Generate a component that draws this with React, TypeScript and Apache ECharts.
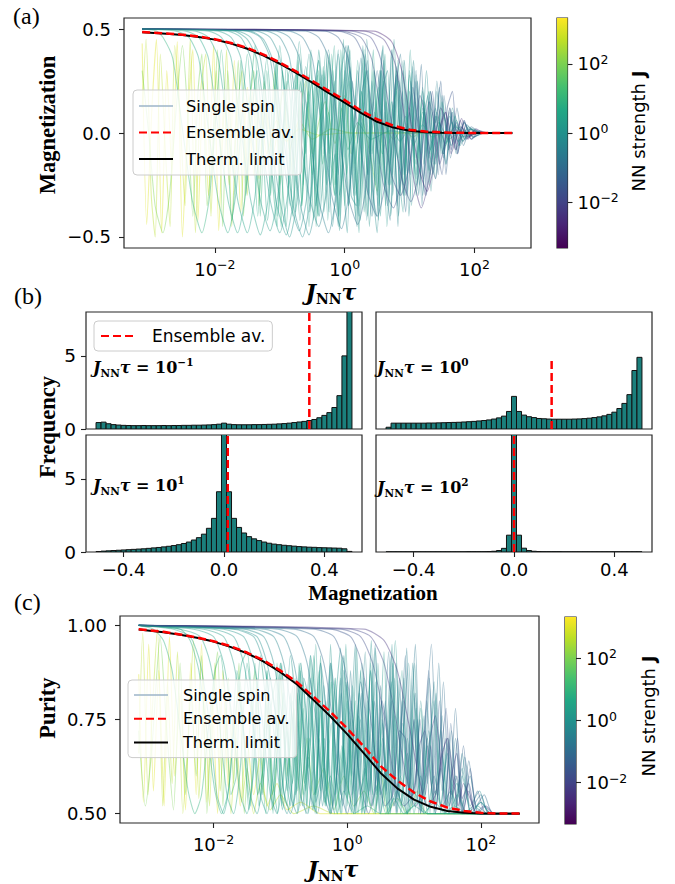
import React, { useEffect, useRef } from "react";
import * as echarts from "echarts";

// ---------------- colour scale ----------------
const VIRIDIS = ["#440154", "#482475", "#414487", "#355f8d", "#2a788e", "#21918c", "#22a884", "#44bf70", "#7ad151", "#bddf26", "#fde725"];
const CB_MIN = -3.33;
const CB_MAX = 3.33;
const cbTicks = [-2, 0, 2];

// ---------------- panel (a): magnetization ----------------
const logTicks = [-2, 0, 2];
const magTicks = [-0.5, 0, 0.5];
const magSpinLogJ = [3.0, 2.6, 2.0, 0.9, 0.7, 0.5, 0.4, 0.3, 0.2, 0.1, 0.0, -0.15, -0.3, -0.5, -0.7, -1.0, -1.3, -1.6, -2.0, -2.3, -1.8, -2.7, 0.55, -0.1, 0.15];
const magSpinPts = [
  [-3.12,0.43,-3.05,-0.44,-2.97,0.12,-2.9,0.45,-2.82,-0.48,-2.74,0.3,-2.66,-0.2,-2.58,0.44,-2.5,-0.5,-2.42,0.05,-2.34,0.4,-2.26,-0.42,-2.18,0.25,-2.1,-0.3,-2.02,0.42,-1.94,-0.47,-1.86,0.18,-1.78,-0.25,-1.7,0.35,-1.6,-0.38,-1.5,0.22,-1.4,-0.2,-1.3,0.15,-1.2,-0.1,-1.05,0.06,-0.9,-0.04,-0.7,0.02,-0.4,-0.01,0,0,2.58,0],
  [-3.12,0.12,-3.06,0.45,-2.98,-0.3,-2.92,-0.5,-2.84,0.38,-2.76,-0.1,-2.69,-0.45,-2.62,0.42,-2.54,0.1,-2.46,-0.35,-2.38,0.45,-2.3,-0.48,-2.22,0.2,-2.14,0.38,-2.06,-0.4,-1.98,0.3,-1.9,-0.15,-1.82,0.4,-1.74,-0.45,-1.66,0.1,-1.58,0.3,-1.5,-0.3,-1.42,0.2,-1.32,-0.22,-1.22,0.12,-1.1,-0.1,-0.95,0.2,-0.85,-0.08,-0.7,0.06,-0.5,-0.03,-0.2,0.02,0.1,0,2.58,0],
  [-3.12,0.3,-3.02,0.0,-2.92,-0.35,-2.8,-0.48,-2.7,-0.3,-2.6,0.1,-2.5,0.42,-2.42,0.1,-2.34,-0.4,-2.26,0.2,-2.2,0.38,-2.12,-0.35,-2.04,-0.1,-1.96,0.4,-1.88,-0.45,-1.8,0.3,-1.72,-0.2,-1.64,0.35,-1.56,-0.4,-1.48,0.1,-1.4,0.3,-1.32,-0.35,-1.24,0.25,-1.16,-0.1,-1.08,0.3,-1.0,-0.25,-0.9,0.15,-0.8,-0.2,-0.7,0.1,-0.6,0.25,-0.5,-0.1,-0.4,0.05,-0.3,0.15,-0.15,-0.05,0,0.18,0.1,-0.1,0.25,0.08,0.4,-0.12,0.5,-0.28,0.6,0.05,0.75,-0.03,0.9,0.02,1.05,-0.02,1.2,0.01,1.4,0,2.58,0],
  [-3.12,0.5,-2.9,0.49,-2.8,0.46,-2.65,0.36,-2.5,0.02,-2.35,-0.32,-2.2,-0.48,-2.08,-0.3,-1.98,0.1,-1.9,0.4,-1.82,0.05,-1.74,-0.42,-1.66,-0.1,-1.6,0.35,-1.52,-0.3,-1.45,0.2,-1.38,0.42,-1.3,-0.4,-1.22,0.1,-1.14,-0.3,-1.06,0.35,-0.98,-0.45,-0.9,0.25,-0.82,-0.2,-0.74,0.3,-0.66,-0.35,-0.58,0.15,-0.5,-0.2,-0.42,0.28,-0.34,-0.15,-0.25,0.1,-0.15,-0.25,-0.05,0.12,0.05,-0.08,0.2,0.05,0.4,-0.03,0.7,0.01,1.0,0,2.58,0],
  [-3.12,0.5,-2.6,0.49,-2.4,0.46,-2.25,0.36,-2.1,0.02,-1.95,-0.32,-1.8,-0.48,-1.68,-0.3,-1.58,0.1,-1.5,0.38,-1.42,0.05,-1.34,-0.4,-1.26,0.0,-1.2,0.3,-1.12,-0.2,-1.04,-0.45,-0.96,0.3,-0.88,0.05,-0.8,-0.4,-0.72,0.35,-0.64,-0.25,-0.56,0.2,-0.48,-0.42,-0.4,0.3,-0.32,-0.1,-0.24,0.38,-0.16,-0.3,-0.08,0.15,0,-0.35,0.08,0.25,0.16,-0.15,0.26,0.2,0.36,-0.2,0.46,0.1,0.58,-0.1,0.7,0.05,0.85,-0.04,1.0,0.02,1.2,0,2.58,0],
  [-3.12,0.5,-2.3,0.49,-2.1,0.46,-1.95,0.36,-1.8,0.02,-1.65,-0.32,-1.5,-0.48,-1.38,-0.3,-1.28,0.1,-1.2,0.36,-1.12,0.05,-1.04,-0.4,-0.96,-0.1,-0.9,0.32,-0.82,0.1,-0.76,-0.38,-0.68,0.25,-0.6,-0.1,-0.52,0.4,-0.44,-0.45,-0.36,0.15,-0.28,-0.25,-0.2,0.38,-0.1,-0.4,0,0.3,0.1,-0.2,0.2,0.35,0.3,-0.38,0.4,0.1,0.5,-0.3,0.6,0.25,0.7,-0.15,0.8,0.3,0.9,-0.25,1.0,0.12,1.1,-0.15,1.2,0.1,1.32,-0.08,1.45,0.05,1.6,-0.03,1.8,0.01,2.0,0,2.58,0],
  [-3.12,0.5,-2.1,0.49,-1.9,0.46,-1.75,0.36,-1.6,0.02,-1.45,-0.32,-1.3,-0.49,-1.18,-0.32,-1.08,0.1,-1.0,0.42,-0.92,0.1,-0.84,-0.35,-0.77,0.0,-0.7,0.38,-0.62,-0.1,-0.55,-0.45,-0.47,0.2,-0.4,0.35,-0.32,-0.38,-0.24,0.05,-0.16,0.42,-0.08,-0.3,0,-0.1,0.08,0.32,0.17,-0.42,0.26,0.2,0.35,-0.2,0.44,0.4,0.53,-0.35,0.62,0.1,0.71,-0.25,0.8,0.3,0.9,-0.3,1.0,0.2,1.1,-0.12,1.2,0.16,1.3,-0.1,1.42,0.08,1.55,-0.05,1.7,0.03,1.9,-0.01,2.1,0,2.58,0],
  [-3.12,0.5,-1.95,0.49,-1.75,0.46,-1.6,0.36,-1.45,0.02,-1.3,-0.32,-1.15,-0.47,-1.03,-0.3,-0.93,0.1,-0.85,0.3,-0.77,0.02,-0.69,-0.42,-0.61,-0.05,-0.55,0.28,-0.47,-0.2,-0.4,-0.4,-0.32,0.3,-0.24,-0.1,-0.16,0.25,-0.08,-0.45,0,0.15,0.08,0.4,0.17,-0.3,0.26,0.05,0.35,-0.4,0.44,0.3,0.53,-0.15,0.62,0.38,0.71,-0.4,0.8,0.2,0.9,-0.2,1.0,0.28,1.1,-0.25,1.2,0.12,1.3,-0.18,1.42,0.1,1.55,-0.06,1.7,0.04,1.85,-0.02,2.05,0,2.58,0],
  [-3.12,0.5,-1.8,0.49,-1.6,0.46,-1.45,0.36,-1.3,0.02,-1.15,-0.32,-1.0,-0.48,-0.88,-0.3,-0.78,0.12,-0.7,0.44,-0.62,0.12,-0.54,-0.38,-0.46,-0.05,-0.4,0.4,-0.33,0.1,-0.26,-0.42,-0.18,0.3,-0.1,-0.2,-0.02,0.45,0.06,-0.35,0.14,0.0,0.22,-0.48,0.3,0.35,0.38,-0.1,0.46,0.3,0.55,-0.4,0.64,0.15,0.73,-0.2,0.82,0.35,0.91,-0.3,1.0,0.1,1.1,-0.22,1.2,0.2,1.3,-0.12,1.4,0.08,1.52,-0.1,1.65,0.05,1.8,-0.02,2.0,0,2.58,0],
  [-3.12,0.5,-1.65,0.49,-1.45,0.46,-1.3,0.36,-1.15,0.02,-1.0,-0.32,-0.85,-0.5,-0.73,-0.32,-0.63,0.1,-0.55,0.38,-0.47,0.08,-0.39,-0.4,-0.31,-0.1,-0.25,0.35,-0.17,-0.05,-0.1,-0.45,-0.02,0.2,0.06,0.42,0.14,-0.3,0.22,0.1,0.3,0.4,0.38,-0.45,0.46,0.0,0.54,0.3,0.63,-0.35,0.72,0.4,0.81,-0.1,0.9,-0.38,1.0,0.3,1.1,-0.2,1.2,0.22,1.3,-0.25,1.4,0.12,1.5,-0.1,1.62,0.08,1.75,-0.04,1.9,0.02,2.1,0,2.58,0],
  [-3.12,0.5,-1.5,0.49,-1.3,0.46,-1.15,0.36,-1.0,0.02,-0.85,-0.32,-0.7,-0.47,-0.58,-0.3,-0.48,0.1,-0.4,0.35,-0.32,0.05,-0.24,-0.38,-0.17,0.0,-0.1,0.4,-0.03,-0.15,0.04,-0.48,0.12,0.25,0.2,-0.05,0.28,0.42,0.36,-0.3,0.44,0.15,0.52,-0.42,0.6,0.35,0.68,-0.05,0.76,0.45,0.85,-0.3,0.94,0.2,1.03,-0.35,1.12,0.25,1.22,-0.15,1.32,0.2,1.42,-0.12,1.52,0.1,1.64,-0.06,1.78,0.03,1.95,-0.01,2.15,0,2.58,0],
  [-3.12,0.5,-1.35,0.49,-1.15,0.46,-1.0,0.36,-0.85,0.02,-0.7,-0.32,-0.55,-0.49,-0.43,-0.3,-0.33,0.12,-0.25,0.4,-0.17,0.1,-0.09,-0.4,-0.02,-0.05,0.05,0.38,0.12,-0.2,0.19,-0.45,0.27,0.2,0.35,0.3,0.43,-0.4,0.51,0.1,0.59,0.42,0.67,-0.25,0.75,0.0,0.83,-0.4,0.92,0.35,1.01,-0.2,1.1,0.28,1.2,-0.3,1.3,0.15,1.4,-0.15,1.5,0.18,1.6,-0.08,1.72,0.06,1.85,-0.03,2.0,0.01,2.2,0,2.58,0],
  [-3.12,0.5,-1.2,0.49,-1.0,0.46,-0.85,0.36,-0.7,0.02,-0.55,-0.3,-0.4,-0.45,-0.28,-0.28,-0.18,0.1,-0.1,0.38,-0.02,0.1,0.06,-0.35,0.13,-0.05,0.2,0.3,0.27,-0.1,0.34,-0.42,0.42,0.25,0.5,-0.1,0.58,0.4,0.66,-0.3,0.74,0.15,0.82,-0.45,0.9,0.3,0.98,0.0,1.06,0.35,1.15,-0.25,1.24,0.1,1.33,-0.28,1.42,0.2,1.52,-0.1,1.62,0.12,1.72,-0.08,1.84,0.05,1.98,-0.02,2.15,0,2.58,0],
  [-3.12,0.5,-1.05,0.49,-0.85,0.46,-0.7,0.36,-0.55,0.02,-0.4,-0.32,-0.25,-0.48,-0.13,-0.3,-0.03,0.1,0.05,0.42,0.13,0.05,0.21,-0.4,0.28,0.0,0.35,0.35,0.42,-0.25,0.49,-0.4,0.57,0.3,0.65,0.0,0.73,0.4,0.81,-0.35,0.89,0.2,0.97,-0.2,1.05,0.32,1.14,-0.3,1.23,0.15,1.32,-0.2,1.42,0.25,1.52,-0.12,1.62,0.1,1.72,-0.1,1.84,0.05,1.98,-0.02,2.15,0,2.58,0],
  [-3.12,0.5,-0.85,0.49,-0.65,0.46,-0.5,0.36,-0.35,0.02,-0.2,-0.3,-0.05,-0.46,0.07,-0.28,0.17,0.1,0.25,0.36,0.33,0.05,0.41,-0.4,0.48,-0.1,0.55,0.3,0.62,-0.2,0.7,-0.42,0.78,0.2,0.86,0.38,0.94,-0.3,1.02,0.05,1.1,0.3,1.19,-0.35,1.28,0.18,1.37,-0.15,1.46,0.22,1.56,-0.15,1.66,0.1,1.76,-0.06,1.88,0.04,2.02,0,2.58,0],
  [-3.12,0.5,-0.6,0.49,-0.4,0.46,-0.25,0.36,-0.1,0.02,0.05,-0.3,0.2,-0.44,0.32,-0.28,0.42,0.08,0.5,0.3,0.58,0.02,0.66,-0.35,0.73,-0.05,0.8,0.32,0.87,-0.15,0.94,-0.38,1.02,0.25,1.1,0.0,1.18,0.33,1.26,-0.3,1.35,0.1,1.44,-0.2,1.53,0.18,1.63,-0.12,1.73,0.12,1.83,-0.06,1.95,0.03,2.1,0,2.58,0],
  [-3.12,0.5,-0.3,0.49,-0.1,0.46,0.05,0.36,0.2,0.03,0.35,-0.28,0.5,-0.4,0.62,-0.25,0.72,0.06,0.8,0.28,0.88,0.05,0.96,-0.3,1.03,-0.05,1.1,0.25,1.17,-0.1,1.24,-0.3,1.32,0.2,1.4,0.05,1.48,0.25,1.56,-0.2,1.65,0.1,1.74,-0.1,1.84,0.06,1.95,-0.03,2.1,0,2.58,0],
  [-3.12,0.5,-0.1,0.49,0.15,0.46,0.3,0.36,0.45,0.04,0.6,-0.25,0.75,-0.36,0.87,-0.22,0.97,0.05,1.05,0.22,1.13,0.04,1.21,-0.22,1.28,-0.05,1.35,0.2,1.42,-0.05,1.5,-0.2,1.58,0.12,1.66,0.2,1.74,-0.1,1.84,0.06,1.95,-0.03,2.08,0.01,2.2,0,2.58,0],
  [-3.12,0.5,0.1,0.49,0.4,0.46,0.55,0.36,0.72,0.05,0.88,-0.22,1.02,-0.33,1.14,-0.2,1.23,0.02,1.3,0.15,1.38,0.05,1.46,-0.15,1.54,-0.05,1.62,0.12,1.7,-0.05,1.78,0.06,1.88,-0.03,2.0,0.01,2.15,0,2.58,0],
  [-3.12,0.5,0.3,0.49,0.6,0.45,0.78,0.33,0.92,0.08,1.05,-0.2,1.18,-0.36,1.3,-0.22,1.4,-0.02,1.48,0.12,1.56,0.05,1.64,-0.1,1.72,-0.02,1.8,0.07,1.9,-0.03,2.02,0.02,2.15,0,2.58,0],
  [-3.12,0.5,-0.05,0.49,0.25,0.46,0.42,0.35,0.57,0.06,0.72,-0.2,0.86,-0.3,0.98,-0.18,1.08,0.02,1.16,0.18,1.24,0.08,1.32,-0.12,1.4,-0.22,1.48,0.02,1.56,0.1,1.64,-0.08,1.72,0.05,1.82,-0.04,1.94,0.02,2.08,0,2.58,0],
  [-3.12,0.5,0.45,0.49,0.72,0.44,0.88,0.3,1.02,0.05,1.15,-0.18,1.27,-0.28,1.38,-0.15,1.47,0.03,1.55,0.1,1.63,0.0,1.71,-0.08,1.8,0.03,1.9,-0.02,2.05,0,2.58,0],
  [-3.12,0.5,-2.45,0.49,-2.25,0.46,-2.1,0.36,-1.95,0.02,-1.8,-0.32,-1.65,-0.48,-1.53,-0.3,-1.43,0.1,-1.35,0.3,-1.27,0.0,-1.19,-0.42,-1.11,-0.1,-1.05,0.35,-0.97,-0.2,-0.9,-0.45,-0.82,0.15,-0.74,0.3,-0.66,-0.35,-0.58,0.1,-0.5,0.25,-0.42,-0.4,-0.33,0.32,-0.24,-0.05,-0.15,-0.3,-0.06,0.4,0.03,-0.2,0.12,0.1,0.22,-0.35,0.32,0.3,0.42,-0.1,0.52,0.22,0.62,-0.25,0.72,0.15,0.82,-0.12,0.94,0.08,1.06,-0.06,1.2,0.04,1.35,-0.02,1.5,0,2.58,0],
  [-3.12,0.5,-1.45,0.49,-1.25,0.45,-1.1,0.34,-0.95,0.0,-0.8,-0.34,-0.65,-0.5,-0.53,-0.32,-0.43,0.08,-0.35,0.28,-0.27,0.0,-0.19,-0.45,-0.12,-0.2,-0.05,0.3,0.02,0.42,0.1,-0.3,0.18,-0.35,0.26,0.1,0.34,0.45,0.42,-0.2,0.5,-0.48,0.58,0.2,0.66,0.3,0.74,-0.3,0.82,0.05,0.9,0.35,0.99,-0.4,1.08,0.15,1.17,-0.1,1.26,0.3,1.36,-0.2,1.46,0.05,1.56,-0.15,1.66,0.12,1.78,-0.06,1.9,0.03,2.05,0,2.58,0],
  [-3.12,0.5,-1.7,0.49,-1.5,0.45,-1.35,0.35,-1.2,0.0,-1.05,-0.34,-0.9,-0.49,-0.78,-0.3,-0.68,0.1,-0.6,0.32,-0.52,0.05,-0.44,-0.35,-0.36,0.1,-0.29,0.4,-0.22,-0.25,-0.15,-0.1,-0.08,-0.47,0.0,0.1,0.08,0.3,0.16,-0.2,0.24,-0.42,0.32,0.38,0.4,0.05,0.48,-0.25,0.56,0.3,0.65,-0.45,0.74,0.1,0.83,0.25,0.92,-0.2,1.01,0.4,1.1,-0.3,1.2,0.05,1.3,0.2,1.4,-0.22,1.5,0.15,1.6,-0.05,1.7,0.08,1.82,-0.04,1.96,0.02,2.12,0,2.58,0],
];
const magThermPts = [-3.12,0.484,-2.75,0.477,-2.5,0.471,-2.25,0.462,-2.0,0.449,-1.75,0.43,-1.5,0.405,-1.25,0.372,-1.0,0.333,-0.75,0.289,-0.5,0.242,-0.25,0.193,0,0.146,0.25,0.097,0.5,0.054,0.75,0.026,1.0,0.011,1.25,0.004,1.5,0.001,1.75,0,2.58,0];
const magEnsPts = [-3.12,0.486,-2.75,0.479,-2.5,0.473,-2.25,0.464,-2.0,0.451,-1.75,0.433,-1.5,0.409,-1.25,0.377,-1.0,0.339,-0.75,0.296,-0.5,0.251,-0.25,0.204,0,0.158,0.25,0.108,0.5,0.066,0.75,0.035,1.0,0.016,1.25,0.007,1.5,0.003,1.75,0.001,2.0,0,2.58,0];

// ---------------- panel (b): histograms ----------------
const histCenters = [-0.5,-0.48,-0.46,-0.44,-0.42,-0.4,-0.38,-0.36,-0.34,-0.32,-0.3,-0.28,-0.26,-0.24,-0.22,-0.2,-0.18,-0.16,-0.14,-0.12,-0.1,-0.08,-0.06,-0.04,-0.02,0,0.02,0.04,0.06,0.08,0.1,0.12,0.14,0.16,0.18,0.2,0.22,0.24,0.26,0.28,0.3,0.32,0.34,0.36,0.38,0.4,0.42,0.44,0.46,0.48,0.5];
const histTau01 = [0.44,0.47,0.36,0.3,0.27,0.25,0.24,0.23,0.23,0.24,0.23,0.23,0.23,0.24,0.23,0.24,0.24,0.25,0.25,0.26,0.26,0.27,0.28,0.3,0.33,0.4,0.33,0.3,0.29,0.29,0.29,0.3,0.3,0.31,0.32,0.33,0.35,0.37,0.4,0.44,0.48,0.52,0.58,0.65,0.77,0.93,1.12,1.47,2.28,5.0,24];
const histTau1 = [0.12,0.4,0.4,0.4,0.4,0.4,0.4,0.4,0.41,0.41,0.42,0.43,0.44,0.45,0.46,0.48,0.5,0.52,0.55,0.58,0.62,0.68,0.76,0.88,1.2,2.23,1.2,0.95,0.84,0.78,0.72,0.7,0.68,0.67,0.67,0.67,0.67,0.68,0.69,0.71,0.74,0.78,0.83,0.9,1.0,1.15,1.4,1.75,2.35,4.0,4.9];
const histTau10 = [0.03,0.06,0.08,0.1,0.12,0.14,0.16,0.18,0.2,0.22,0.25,0.28,0.31,0.35,0.39,0.44,0.5,0.58,0.68,0.82,0.98,1.22,1.62,2.3,4.12,12,4.12,2.3,1.68,1.3,1.05,0.9,0.78,0.68,0.6,0.54,0.5,0.46,0.43,0.4,0.37,0.35,0.33,0.32,0.3,0.29,0.28,0.27,0.26,0.22,0.04];
const histTau100 = [0.01,0.01,0.01,0.01,0.01,0.01,0.01,0.01,0.01,0.01,0.01,0.01,0.01,0.01,0.01,0.01,0.02,0.02,0.02,0.02,0.03,0.05,0.1,0.25,1.15,45,1.15,0.26,0.1,0.05,0.03,0.02,0.02,0.02,0.02,0.01,0.01,0.01,0.01,0.01,0.01,0.01,0.01,0.01,0.01,0.01,0.01,0.01,0.01,0.01,0.01];
const histMeans = [0.34, 0.15, 0.015, 0.0];
const histExps = ["\u22121", "0", "1", "2"];
const histXTicks = [-0.4, 0, 0.4];
const histYTicks = [0, 5];

// ---------------- panel (c): purity ----------------
const purTicks = [0.5, 0.75, 1.0];
const purSpinLogJ = [3.0, 2.6, 2.0, 0.9, 0.7, 0.5, 0.4, 0.3, 0.2, 0.1, 0.0, -0.15, -0.3, -0.5, -0.7, -1.0, -1.3, -1.6, -1.8, -2.0, -2.3, 0.55, -0.1];
const purSpinPts = [
  [-3.12,0.87,-3.05,0.53,-2.97,0.95,-2.9,0.56,-2.82,0.88,-2.74,0.52,-2.66,0.97,-2.58,0.6,-2.5,0.82,-2.42,0.51,-2.34,0.9,-2.26,0.55,-2.18,0.95,-2.1,0.53,-2.02,0.8,-1.94,0.5,-1.86,0.88,-1.78,0.57,-1.7,0.75,-1.6,0.52,-1.5,0.7,-1.4,0.55,-1.3,0.65,-1.2,0.52,-1.05,0.58,-0.9,0.51,-0.7,0.53,-0.4,0.5,2.58,0.5],
  [-3.12,0.66,-3.06,0.98,-2.98,0.55,-2.92,0.76,-2.84,0.99,-2.76,0.52,-2.69,0.85,-2.62,0.58,-2.54,0.93,-2.46,0.5,-2.38,0.7,-2.3,0.96,-2.22,0.54,-2.14,0.82,-2.06,0.52,-1.98,0.9,-1.9,0.56,-1.82,0.78,-1.74,0.5,-1.66,0.7,-1.58,0.53,-1.5,0.62,-1.4,0.5,-1.3,0.58,-1.15,0.51,-1.0,0.55,-0.8,0.5,-0.5,0.52,-0.2,0.5,2.58,0.5],
  [-3.12,0.72,-3.02,0.52,-2.92,0.68,-2.8,0.97,-2.7,0.72,-2.6,0.51,-2.5,0.9,-2.42,0.55,-2.34,0.82,-2.26,0.6,-2.18,0.92,-2.1,0.5,-2.02,0.78,-1.94,0.93,-1.86,0.52,-1.78,0.86,-1.7,0.58,-1.62,0.9,-1.54,0.5,-1.46,0.72,-1.38,0.88,-1.3,0.55,-1.2,0.8,-1.1,0.52,-1.0,0.86,-0.9,0.6,-0.8,0.78,-0.7,0.52,-0.6,0.7,-0.5,0.55,-0.35,0.62,-0.2,0.51,-0.05,0.6,0.1,0.52,0.25,0.56,0.4,0.5,0.5,0.62,0.6,0.5,0.75,0.54,0.9,0.5,1.05,0.56,1.2,0.5,2.58,0.5],
  [-3.12,1.0,-2.9,0.99,-2.75,0.96,-2.62,0.88,-2.5,0.72,-2.38,0.56,-2.28,0.5,-2.18,0.55,-2.08,0.72,-1.98,0.88,-1.9,0.92,-1.82,0.8,-1.74,0.55,-1.66,0.6,-1.6,0.85,-1.52,0.62,-1.45,0.52,-1.38,0.9,-1.3,0.7,-1.22,0.5,-1.14,0.78,-1.06,0.86,-0.98,0.52,-0.9,0.72,-0.82,0.58,-0.74,0.82,-0.66,0.55,-0.58,0.65,-0.5,0.51,-0.42,0.7,-0.34,0.53,-0.25,0.6,-0.15,0.5,-0.05,0.56,0.1,0.5,0.3,0.52,0.5,0.5,2.58,0.5],
  [-3.12,1.0,-2.5,0.99,-2.35,0.96,-2.22,0.88,-2.1,0.72,-1.98,0.56,-1.88,0.5,-1.78,0.56,-1.68,0.75,-1.58,0.9,-1.5,0.93,-1.42,0.78,-1.34,0.55,-1.26,0.62,-1.2,0.88,-1.12,0.6,-1.04,0.5,-0.96,0.82,-0.88,0.66,-0.8,0.52,-0.72,0.9,-0.64,0.58,-0.56,0.7,-0.48,0.5,-0.4,0.8,-0.32,0.56,-0.24,0.85,-0.16,0.52,-0.08,0.68,0,0.54,0.08,0.75,0.16,0.5,0.26,0.62,0.36,0.52,0.46,0.58,0.58,0.5,0.7,0.54,0.85,0.5,1.0,0.52,1.2,0.5,2.58,0.5],
  [-3.12,1.0,-2.5,0.99,-2.2,0.97,-2.05,0.9,-1.92,0.75,-1.8,0.55,-1.7,0.5,-1.6,0.62,-1.5,0.9,-1.4,0.74,-1.32,0.52,-1.26,0.62,-1.2,0.88,-1.12,0.55,-1.05,0.66,-0.98,0.9,-0.9,0.56,-0.82,0.8,-0.74,0.5,-0.66,0.85,-0.58,0.62,-0.5,0.92,-0.42,0.52,-0.34,0.7,-0.26,0.5,-0.18,0.86,-0.1,0.58,0,0.8,0.1,0.5,0.2,0.75,0.3,0.53,0.4,0.68,0.5,0.5,0.6,0.62,0.7,0.52,0.8,0.6,0.9,0.5,1.0,0.56,1.15,0.5,1.3,0.53,1.5,0.5,2.58,0.5],
  [-3.12,1.0,-2.3,0.99,-2.0,0.97,-1.85,0.9,-1.72,0.75,-1.6,0.55,-1.5,0.5,-1.4,0.62,-1.3,0.92,-1.2,0.76,-1.12,0.51,-1.05,0.64,-1.0,0.9,-0.92,0.6,-0.85,0.52,-0.78,0.86,-0.7,0.65,-0.62,0.5,-0.55,0.92,-0.47,0.55,-0.4,0.78,-0.32,0.52,-0.24,0.9,-0.16,0.6,-0.08,0.5,0,0.85,0.08,0.55,0.17,0.76,0.26,0.5,0.35,0.88,0.44,0.56,0.53,0.7,0.62,0.5,0.71,0.76,0.8,0.52,0.9,0.66,1.0,0.5,1.1,0.6,1.2,0.51,1.32,0.56,1.45,0.5,1.6,0.52,1.8,0.5,2.58,0.5],
  [-3.12,1.0,-2.15,0.99,-1.85,0.97,-1.7,0.9,-1.57,0.75,-1.45,0.55,-1.35,0.5,-1.25,0.6,-1.15,0.86,-1.05,0.72,-0.97,0.51,-0.9,0.6,-0.85,0.82,-0.77,0.55,-0.69,0.9,-0.61,0.52,-0.55,0.7,-0.47,0.95,-0.4,0.56,-0.32,0.8,-0.24,0.5,-0.16,0.68,-0.08,0.92,0,0.52,0.08,0.84,0.17,0.6,0.26,0.5,0.35,0.9,0.44,0.55,0.53,0.74,0.62,0.52,0.71,0.86,0.8,0.5,0.9,0.7,1.0,0.55,1.1,0.78,1.2,0.5,1.3,0.6,1.42,0.52,1.55,0.56,1.7,0.5,2.58,0.5],
  [-3.12,1.0,-2.0,0.99,-1.7,0.97,-1.55,0.9,-1.42,0.75,-1.3,0.55,-1.2,0.5,-1.1,0.62,-1.0,0.9,-0.9,0.74,-0.82,0.52,-0.76,0.6,-0.7,0.88,-0.62,0.56,-0.54,0.8,-0.46,0.5,-0.4,0.92,-0.33,0.6,-0.26,0.52,-0.18,0.86,-0.1,0.55,-0.02,0.95,0.06,0.5,0.14,0.72,0.22,0.9,0.3,0.52,0.38,0.8,0.46,0.58,0.55,0.93,0.64,0.5,0.73,0.7,0.82,0.88,0.91,0.52,1.0,0.75,1.1,0.5,1.2,0.68,1.3,0.53,1.4,0.62,1.52,0.5,1.65,0.55,1.8,0.5,2.58,0.5],
  [-3.12,1.0,-1.85,0.99,-1.55,0.97,-1.4,0.9,-1.27,0.75,-1.15,0.55,-1.05,0.5,-0.95,0.62,-0.85,0.92,-0.75,0.75,-0.67,0.52,-0.61,0.6,-0.55,0.86,-0.47,0.55,-0.39,0.78,-0.31,0.52,-0.25,0.95,-0.17,0.62,-0.1,0.5,-0.02,0.85,0.06,0.6,0.14,0.94,0.22,0.5,0.3,0.8,0.38,0.55,0.46,0.9,0.54,0.52,0.63,0.7,0.72,0.96,0.81,0.55,0.9,0.5,1.0,0.82,1.1,0.55,1.2,0.7,1.3,0.5,1.4,0.72,1.5,0.52,1.62,0.6,1.75,0.5,1.9,0.52,2.05,0.5,2.58,0.5],
  [-3.12,1.0,-1.7,0.99,-1.4,0.97,-1.25,0.9,-1.12,0.75,-1.0,0.55,-0.9,0.5,-0.8,0.62,-0.7,0.9,-0.6,0.74,-0.52,0.51,-0.46,0.62,-0.4,0.9,-0.32,0.58,-0.24,0.5,-0.17,0.8,-0.1,0.94,-0.03,0.55,0.04,0.7,0.12,0.5,0.2,0.88,0.28,0.6,0.36,0.96,0.44,0.52,0.52,0.75,0.6,0.5,0.68,0.9,0.76,0.6,0.85,0.86,0.94,0.5,1.03,0.78,1.12,0.55,1.22,0.72,1.32,0.5,1.42,0.66,1.52,0.52,1.64,0.58,1.78,0.5,1.95,0.52,2.1,0.5,2.58,0.5],
  [-3.12,1.0,-1.55,0.99,-1.25,0.97,-1.1,0.9,-0.97,0.75,-0.85,0.55,-0.75,0.5,-0.65,0.62,-0.55,0.92,-0.45,0.75,-0.37,0.52,-0.31,0.62,-0.25,0.9,-0.17,0.55,-0.09,0.82,-0.02,0.5,0.05,0.7,0.12,0.95,0.19,0.55,0.27,0.62,0.35,0.88,0.43,0.5,0.51,0.8,0.59,0.56,0.67,0.95,0.75,0.5,0.83,0.7,0.92,0.9,1.01,0.52,1.1,0.8,1.2,0.58,1.3,0.85,1.4,0.5,1.5,0.7,1.6,0.52,1.72,0.62,1.85,0.5,2.0,0.53,2.15,0.5,2.58,0.5],
  [-3.12,1.0,-1.4,0.99,-1.1,0.97,-0.95,0.9,-0.82,0.75,-0.7,0.55,-0.6,0.5,-0.5,0.62,-0.4,0.9,-0.3,0.74,-0.22,0.52,-0.16,0.6,-0.1,0.86,-0.02,0.56,0.06,0.8,0.13,0.5,0.2,0.72,0.27,0.93,0.34,0.55,0.42,0.85,0.5,0.5,0.58,0.66,0.66,0.92,0.74,0.54,0.82,0.8,0.9,0.5,0.98,0.9,1.06,0.6,1.15,0.76,1.24,0.5,1.33,0.82,1.42,0.56,1.52,0.7,1.62,0.5,1.72,0.66,1.84,0.52,1.98,0.56,2.12,0.5,2.58,0.5],
  [-3.12,1.0,-1.25,0.99,-0.95,0.97,-0.8,0.9,-0.67,0.75,-0.55,0.55,-0.45,0.5,-0.35,0.62,-0.25,0.9,-0.15,0.75,-0.07,0.52,-0.01,0.62,0.05,0.88,0.13,0.56,0.21,0.82,0.28,0.5,0.35,0.76,0.42,0.95,0.49,0.55,0.57,0.8,0.65,0.5,0.73,0.9,0.81,0.6,0.89,0.94,0.97,0.52,1.05,0.75,1.14,0.5,1.23,0.86,1.32,0.55,1.42,0.76,1.52,0.5,1.62,0.7,1.72,0.52,1.84,0.6,1.98,0.5,2.58,0.5],
  [-3.12,1.0,-1.05,0.99,-0.75,0.97,-0.6,0.9,-0.47,0.75,-0.35,0.55,-0.25,0.5,-0.15,0.62,-0.05,0.88,0.05,0.74,0.13,0.52,0.19,0.6,0.25,0.86,0.33,0.56,0.41,0.8,0.48,0.5,0.55,0.7,0.62,0.93,0.7,0.55,0.78,0.86,0.86,0.52,0.94,0.7,1.02,0.95,1.1,0.5,1.19,0.8,1.28,0.58,1.37,0.9,1.46,0.52,1.56,0.72,1.66,0.5,1.76,0.65,1.88,0.52,2.0,0.55,2.12,0.5,2.58,0.5],
  [-3.12,1.0,-0.8,0.99,-0.5,0.97,-0.35,0.9,-0.22,0.75,-0.1,0.56,0.0,0.5,0.1,0.6,0.2,0.85,0.3,0.72,0.38,0.52,0.44,0.6,0.5,0.84,0.58,0.55,0.66,0.8,0.73,0.5,0.8,0.72,0.87,0.92,0.94,0.55,1.02,0.82,1.1,0.5,1.18,0.76,1.26,0.95,1.35,0.55,1.44,0.85,1.53,0.52,1.62,0.78,1.72,0.5,1.82,0.64,1.93,0.52,2.05,0.55,2.18,0.5,2.58,0.5],
  [-3.12,1.0,-0.5,0.99,-0.2,0.97,-0.05,0.9,0.08,0.76,0.2,0.58,0.32,0.5,0.42,0.58,0.52,0.8,0.62,0.7,0.7,0.52,0.77,0.6,0.84,0.8,0.92,0.55,1.0,0.75,1.07,0.5,1.14,0.68,1.22,0.88,1.3,0.55,1.38,0.8,1.46,0.5,1.55,0.74,1.64,0.52,1.74,0.68,1.84,0.5,1.95,0.56,2.08,0.5,2.58,0.5],
  [-3.12,1.0,-0.25,0.99,0.05,0.97,0.2,0.91,0.33,0.78,0.45,0.62,0.57,0.52,0.68,0.55,0.78,0.72,0.87,0.7,0.95,0.54,1.02,0.58,1.09,0.75,1.17,0.55,1.25,0.68,1.32,0.5,1.4,0.65,1.48,0.78,1.56,0.52,1.65,0.7,1.74,0.5,1.84,0.62,1.95,0.5,2.08,0.52,2.2,0.5,2.58,0.5],
  [-3.12,1.0,-0.1,0.99,0.2,0.97,0.38,0.9,0.55,0.76,0.7,0.6,0.85,0.52,0.98,0.55,1.08,0.68,1.16,0.72,1.24,0.6,1.32,0.51,1.4,0.62,1.48,0.7,1.56,0.55,1.64,0.6,1.72,0.5,1.82,0.56,1.94,0.5,2.58,0.5],
  [-3.12,1.0,0.05,0.99,0.35,0.97,0.55,0.9,0.72,0.76,0.88,0.6,1.02,0.52,1.14,0.56,1.24,0.7,1.32,0.76,1.4,0.64,1.48,0.52,1.56,0.6,1.64,0.66,1.72,0.54,1.82,0.58,1.92,0.5,2.05,0.52,2.2,0.5,2.58,0.5],
  [-3.12,1.0,0.25,0.99,0.55,0.96,0.75,0.88,0.92,0.74,1.07,0.6,1.2,0.52,1.32,0.55,1.42,0.66,1.5,0.7,1.58,0.6,1.66,0.52,1.74,0.58,1.84,0.54,1.95,0.5,2.58,0.5],
  [-3.12,1.0,-2.6,0.99,-2.35,0.97,-2.2,0.9,-2.07,0.75,-1.95,0.55,-1.85,0.5,-1.75,0.6,-1.65,0.88,-1.55,0.72,-1.47,0.51,-1.41,0.6,-1.35,0.86,-1.27,0.55,-1.19,0.76,-1.11,0.5,-1.05,0.9,-0.97,0.58,-0.9,0.52,-0.82,0.84,-0.74,0.56,-0.66,0.78,-0.58,0.5,-0.5,0.7,-0.42,0.88,-0.33,0.52,-0.24,0.74,-0.15,0.5,-0.06,0.68,0.03,0.55,0.12,0.8,0.22,0.5,0.32,0.66,0.42,0.5,0.52,0.62,0.62,0.5,0.74,0.56,0.88,0.5,1.05,0.53,1.2,0.5,2.58,0.5],
  [-3.12,1.0,-1.65,0.99,-1.35,0.97,-1.2,0.9,-1.07,0.76,-0.95,0.56,-0.85,0.5,-0.75,0.58,-0.65,0.86,-0.55,0.78,-0.47,0.53,-0.41,0.58,-0.35,0.84,-0.27,0.6,-0.19,0.5,-0.12,0.76,-0.05,0.92,0.02,0.56,0.1,0.5,0.18,0.82,0.26,0.66,0.34,0.52,0.42,0.94,0.5,0.55,0.58,0.6,0.66,0.85,0.74,0.5,0.83,0.74,0.92,0.56,1.01,0.9,1.1,0.52,1.2,0.62,1.3,0.8,1.4,0.52,1.5,0.66,1.6,0.5,1.72,0.6,1.86,0.5,2.0,0.53,2.15,0.5,2.58,0.5],
];
const purThermPts = [-3.12,0.989,-2.75,0.982,-2.5,0.975,-2.25,0.967,-2.0,0.957,-1.75,0.943,-1.5,0.926,-1.25,0.904,-1.0,0.876,-0.75,0.843,-0.5,0.801,-0.25,0.758,0,0.711,0.25,0.66,0.5,0.608,0.75,0.567,1.0,0.537,1.25,0.518,1.5,0.507,1.75,0.502,2.0,0.5,2.58,0.5];
const purEnsPts = [-3.12,0.99,-2.75,0.983,-2.5,0.976,-2.25,0.968,-2.0,0.958,-1.75,0.945,-1.5,0.928,-1.25,0.907,-1.0,0.88,-0.75,0.849,-0.5,0.81,-0.25,0.77,0,0.726,0.25,0.678,0.5,0.626,0.75,0.588,1.0,0.556,1.25,0.532,1.5,0.516,1.75,0.507,2.0,0.502,2.3,0.5,2.58,0.5];

// ---------------- helpers ----------------
const SANS = "DejaVu Sans";
const SERIF = "Liberation Serif";
const MATH = "DejaVu Serif";
const MINUS = "\u2212";

function toPairs(f) {
  const out = [];
  for (let i = 0; i < f.length; i += 2) out.push([f[i], f[i + 1]]);
  return out;
}
function hexRgb(h) {
  return [parseInt(h.slice(1, 3), 16), parseInt(h.slice(3, 5), 16), parseInt(h.slice(5, 7), 16)];
}
function viridis(lj) {
  let t = (lj - CB_MIN) / (CB_MAX - CB_MIN);
  t = Math.max(0, Math.min(1, t));
  const s = t * 10;
  const i = Math.min(9, Math.floor(s));
  const f = s - i;
  const a = hexRgb(VIRIDIS[i]);
  const b = hexRgb(VIRIDIS[i + 1]);
  const c = a.map((v, k) => Math.round(v + (b[k] - v) * f));
  return `rgb(${c[0]},${c[1]},${c[2]})`;
}
function fmtNum(v, d) {
  return v.toFixed(d).replace("-", MINUS);
}
function expStr(v) {
  const r = Math.round(v);
  return r < 0 ? MINUS + String(-r) : String(r);
}
const powRich = {
  b: { fontFamily: SANS, fontSize: 18, lineHeight: 22, color: "#000" },
  s: { fontFamily: SANS, fontSize: 12.5, lineHeight: 11, verticalAlign: "top", color: "#000" },
};
const powFormatter = (v) => `{b|10}{s|${expStr(v)}}`;

const tickLine = { color: "#222", width: 1.1 };
const noLine = { show: false, onZero: false };

function gridBox(left, top, width, height) {
  return { left, top, width, height, show: true, borderColor: "#262626", borderWidth: 1.2, backgroundColor: "transparent", containLabel: false };
}

const App = () => {
  const ref = useRef(null);
  useEffect(() => {
    if (!ref.current) return;
    const chart = echarts.init(ref.current, null, { renderer: "svg" });

    const grids = [
      gridBox(124, 18, 407, 230), // 0 (a)
      gridBox(557, 18, 10.5, 230), // 1 colorbar a
      gridBox(86, 312, 276, 117), // 2 b top-left
      gridBox(376, 312, 276, 117), // 3 b top-right
      gridBox(86, 435, 276, 117), // 4 b bottom-left
      gridBox(376, 435, 276, 117), // 5 b bottom-right
      gridBox(120, 616, 419, 207), // 6 (c)
      gridBox(565, 617, 11, 207), // 7 colorbar c
    ];

    const logX = (gi) => ({
      type: "value", gridIndex: gi, min: -3.4, max: 2.87,
      axisLine: noLine, splitLine: { show: false },
      axisTick: { show: true, customValues: logTicks, length: 5, lineStyle: tickLine },
      axisLabel: { customValues: logTicks, margin: 10, formatter: powFormatter, rich: powRich },
    });
    const hiddenX = (gi) => ({ type: "value", gridIndex: gi, min: 0, max: 1, show: false, axisLine: noLine });
    const histX = (gi, labels) => ({
      type: "value", gridIndex: gi, min: -0.55, max: 0.55,
      axisLine: noLine, splitLine: { show: false },
      axisTick: { show: labels, customValues: histXTicks, length: 5, lineStyle: tickLine },
      axisLabel: { show: labels, customValues: histXTicks, margin: 8, formatter: (v) => fmtNum(v, 1), fontFamily: SANS, fontSize: 18, color: "#000" },
    });
    const histY = (gi, labels) => ({
      type: "value", gridIndex: gi, min: 0, max: 8,
      axisLine: noLine, splitLine: { show: false },
      axisTick: { show: labels, customValues: histYTicks, length: 5, lineStyle: tickLine },
      axisLabel: { show: labels, customValues: histYTicks, margin: 10, formatter: (v) => String(Math.round(v)), fontFamily: SANS, fontSize: 18.5, color: "#000" },
    });
    const cbY = (gi) => ({
      type: "value", gridIndex: gi, min: CB_MIN, max: CB_MAX, position: "right",
      axisLine: noLine, splitLine: { show: false },
      axisTick: { show: true, customValues: cbTicks, length: 5, lineStyle: tickLine },
      axisLabel: { customValues: cbTicks, margin: 10, formatter: powFormatter, rich: powRich },
    });

    const xAxis = [logX(0), hiddenX(1), histX(2, false), histX(3, false), histX(4, true), histX(5, true), logX(6), hiddenX(7)];
    const yAxis = [
      {
        type: "value", gridIndex: 0, min: -0.553, max: 0.553,
        axisLine: noLine, splitLine: { show: false },
        axisTick: { show: true, customValues: magTicks, length: 5, lineStyle: tickLine },
        axisLabel: { customValues: magTicks, margin: 13, formatter: (v) => fmtNum(v, 1), fontFamily: SANS, fontSize: 18, color: "#000" },
      },
      cbY(1),
      histY(2, true), histY(3, false), histY(4, true), histY(5, false),
      {
        type: "value", gridIndex: 6, min: 0.475, max: 1.025,
        axisLine: noLine, splitLine: { show: false },
        axisTick: { show: true, customValues: purTicks, length: 5, lineStyle: tickLine },
        axisLabel: { customValues: purTicks, margin: 13, formatter: (v) => fmtNum(v, 2), fontFamily: SANS, fontSize: 18, color: "#000" },
      },
      cbY(7),
    ];

    const spinStyle = (lj) => ({ color: viridis(lj), width: 1.1, opacity: 0.42 });
    const series = [];
    magSpinPts.forEach((pts, i) => {
      series.push({
        type: "line", name: "Single spin", xAxisIndex: 0, yAxisIndex: 0, data: toPairs(pts),
        symbol: "none", silent: true, z: 2, smooth: 0.22, lineStyle: spinStyle(magSpinLogJ[i]),
      });
    });
    series.push({
      type: "line", name: "Therm. limit", xAxisIndex: 0, yAxisIndex: 0, data: toPairs(magThermPts),
      symbol: "none", z: 4, lineStyle: { color: "#000", width: 2 },
    });
    series.push({
      type: "line", name: "Ensemble av.", xAxisIndex: 0, yAxisIndex: 0, data: toPairs(magEnsPts),
      symbol: "none", z: 5, lineStyle: { color: "#ff0000", width: 2.5, type: [8, 4] },
    });
    purSpinPts.forEach((pts, i) => {
      series.push({
        type: "line", name: "Single spin", xAxisIndex: 6, yAxisIndex: 6, data: toPairs(pts),
        symbol: "none", silent: true, z: 2, smooth: 0.22, lineStyle: spinStyle(purSpinLogJ[i]),
      });
    });
    series.push({
      type: "line", name: "Therm. limit", xAxisIndex: 6, yAxisIndex: 6, data: toPairs(purThermPts),
      symbol: "none", z: 4, lineStyle: { color: "#000", width: 2 },
    });
    series.push({
      type: "line", name: "Ensemble av.", xAxisIndex: 6, yAxisIndex: 6, data: toPairs(purEnsPts),
      symbol: "none", z: 5, lineStyle: { color: "#ff0000", width: 2.5, type: [8, 4] },
    });

    const cbStops = VIRIDIS.map((c, i) => ({ offset: i / (VIRIDIS.length - 1), color: c }));
    [1, 7].forEach((gi) => {
      series.push({
        type: "custom", xAxisIndex: gi, yAxisIndex: gi, data: [[0]], silent: true, z: 1,
        renderItem: (params, api) => {
          const a = api.coord([0, CB_MIN]);
          const b = api.coord([1, CB_MAX]);
          return {
            type: "rect",
            shape: { x: a[0], y: b[1], width: b[0] - a[0], height: a[1] - b[1] },
            style: { fill: new echarts.graphic.LinearGradient(0, 1, 0, 0, cbStops) },
          };
        },
      });
    });

    const hists = [histTau01, histTau1, histTau10, histTau100];
    hists.forEach((h, k) => {
      const gi = 2 + k;
      series.push({
        type: "custom", xAxisIndex: gi, yAxisIndex: gi, clip: true, silent: true, z: 2,
        data: histCenters.map((c, i) => [c, h[i]]),
        renderItem: (params, api) => {
          const c = api.value(0);
          const v = api.value(1);
          const p0 = api.coord([c - 0.01, v]);
          const p1 = api.coord([c + 0.01, 0]);
          return {
            type: "rect",
            shape: { x: p0[0], y: p0[1], width: p1[0] - p0[0], height: p1[1] - p0[1] },
            style: { fill: "#1b7f7c", stroke: "#111", lineWidth: 1 },
          };
        },
      });
      const hmax = Math.max(...h);
      series.push({
        type: "line", name: "Ensemble av.", xAxisIndex: gi, yAxisIndex: gi, clip: true, z: 5,
        data: [[histMeans[k], 0], [histMeans[k], hmax]], symbol: "none", silent: true,
        lineStyle: { color: "#ff0000", width: 2.5, type: [8, 4] },
      });
    });

    const spinLegendItem = { name: "Single spin", itemStyle: { opacity: 0 }, lineStyle: { color: "#9db5c9", width: 1.5, opacity: 1, type: "solid" } };
    const legendBase = {
      orient: "vertical", itemWidth: 34, itemHeight: 14, selectedMode: false,
      itemStyle: { opacity: 0 },
      backgroundColor: "rgba(255,255,255,0.8)", borderColor: "#cccccc", borderWidth: 1, borderRadius: 4,
    };
    const legend = [
      {
        ...legendBase, left: 133, top: 90, itemGap: 6.5, padding: [6, 7, 6, 5],
        textStyle: { fontFamily: SANS, fontSize: 16.3, color: "#000", lineHeight: 20, padding: [0, 0, 0, 8] },
        data: [spinLegendItem, "Ensemble av.", "Therm. limit"],
      },
      {
        ...legendBase, left: 94, top: 321, itemWidth: 33, itemGap: 4, padding: [5, 7, 5, 6],
        textStyle: { fontFamily: SANS, fontSize: 17, color: "#000", lineHeight: 20, padding: [0, 0, 0, 13] },
        data: ["Ensemble av."],
      },
      {
        ...legendBase, left: 128, top: 680, itemGap: 3.8, padding: [5, 7, 5, 5],
        textStyle: { fontFamily: SANS, fontSize: 16, color: "#000", lineHeight: 20, padding: [0, 0, 0, 10] },
        data: [spinLegendItem, "Ensemble av.", "Therm. limit"],
      },
    ];

    const mathRich = (size, subSize) => ({
      j: { fontFamily: MATH, fontStyle: "italic", fontWeight: "bold", fontSize: size, lineHeight: size + 6, color: "#000" },
      n: { fontFamily: MATH, fontWeight: "bold", fontSize: subSize, lineHeight: subSize + 1, verticalAlign: "bottom", color: "#000" },
      e: { fontFamily: MATH, fontWeight: "bold", fontSize: size, lineHeight: size + 6, color: "#000" },
      p: { fontFamily: MATH, fontWeight: "bold", fontSize: subSize, lineHeight: subSize, verticalAlign: "top", color: "#000" },
    });
    const jLabel = "{j|J}{n|NN}{j|\u03c4}";
    const textEl = (x, y, text, extra) => ({ type: "text", x, y, silent: true, style: { text, fill: "#000", ...extra } });
    const cbLabelRich = { a: { fontFamily: SANS, fontSize: 18, color: "#000" }, b: { fontFamily: SANS, fontWeight: "bold", fontSize: 18, color: "#000" } };

    const graphic = [
      textEl(13, 16, "(a)", { fontFamily: SERIF, fontSize: 24, align: "left", verticalAlign: "middle" }),
      textEl(14, 296, "(b)", { fontFamily: SERIF, fontSize: 24, align: "left", verticalAlign: "middle" }),
      textEl(14, 602, "(c)", { fontFamily: SERIF, fontSize: 24, align: "left", verticalAlign: "middle" }),
      { ...textEl(47.5, 125, "Magnetization", { fontFamily: SERIF, fontWeight: "bold", fontSize: 22.5, align: "center", verticalAlign: "middle" }), rotation: Math.PI / 2 },
      { ...textEl(47.5, 427, "Frequency", { fontFamily: SERIF, fontWeight: "bold", fontSize: 22.5, align: "center", verticalAlign: "middle" }), rotation: Math.PI / 2 },
      { ...textEl(47.5, 708, "Purity", { fontFamily: SERIF, fontWeight: "bold", fontSize: 22.5, align: "center", verticalAlign: "middle" }), rotation: Math.PI / 2 },
      textEl(373, 593, "Magnetization", { fontFamily: SERIF, fontWeight: "bold", fontSize: 21, align: "center", verticalAlign: "middle" }),
      textEl(331, 292, jLabel, { rich: mathRich(22, 14), align: "center", verticalAlign: "middle" }),
      textEl(333, 869, jLabel, { rich: mathRich(22, 14), align: "center", verticalAlign: "middle" }),
      { ...textEl(638, 131, "{a|NN strength }{b|J}", { rich: cbLabelRich, align: "center", verticalAlign: "middle" }), rotation: Math.PI / 2 },
      { ...textEl(648, 716, "{a|NN strength }{b|J}", { rich: cbLabelRich, align: "center", verticalAlign: "middle" }), rotation: Math.PI / 2 },
    ];
    const annPos = [[93, 367], [377, 367], [93, 485], [377, 487]];
    histExps.forEach((ex, k) => {
      graphic.push(textEl(annPos[k][0], annPos[k][1], `{j|J}{n|NN}{j|\u03c4}{e| = 10}{p|${ex}}`, { rich: mathRich(16, 10.5), align: "left", verticalAlign: "middle" }));
    });

    chart.setOption({
      animation: false,
      textStyle: { fontFamily: SANS },
      grid: grids,
      xAxis,
      yAxis,
      legend,
      series,
      graphic,
    });
    return () => chart.dispose();
  }, []);
  return <div ref={ref} style={{ position: "absolute", left: 0, top: 0, width: 675, height: 884, background: "#fff" }} />;
};

export default App;
